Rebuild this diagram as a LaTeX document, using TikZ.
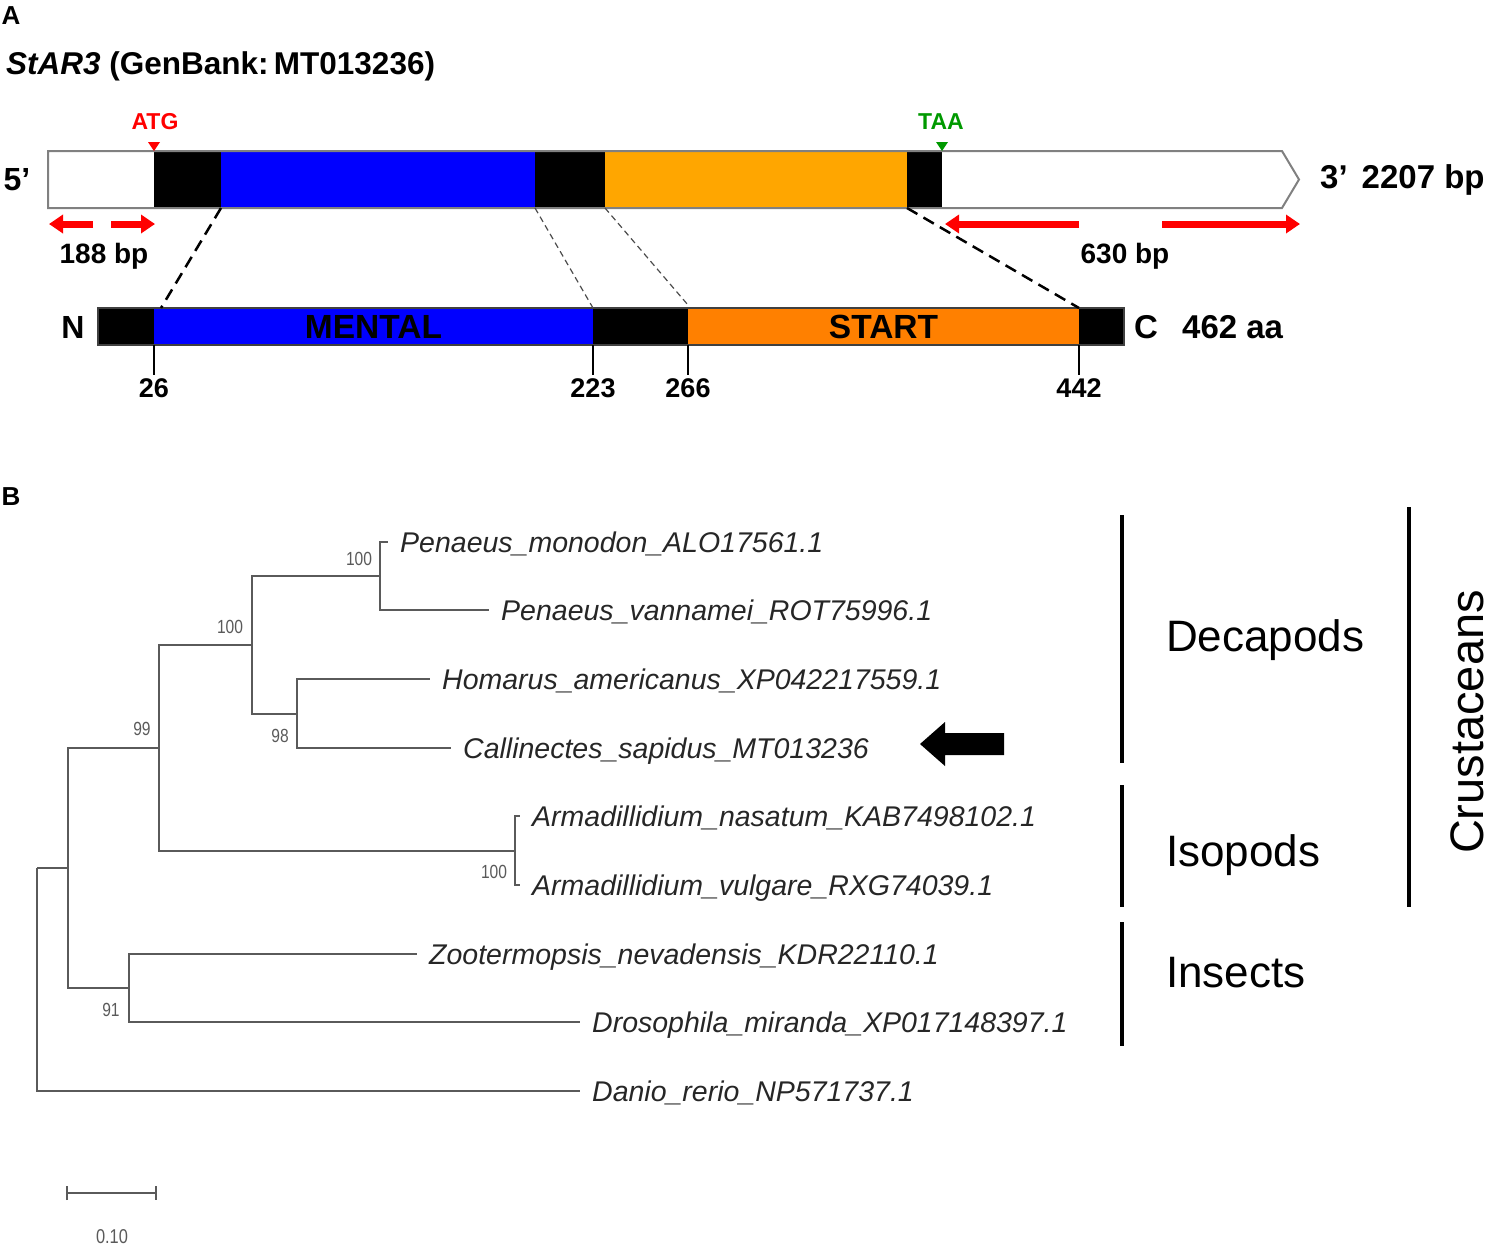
\documentclass[tikz,border=0pt]{standalone}
\usepackage{fontspec}
\setmainfont{Liberation Sans}
\newfontfamily\bootfont[FakeStretch=0.82]{Liberation Sans}
\usetikzlibrary{positioning,calc,arrows.meta}

\definecolor{geneorange}{RGB}{255,166,0}
\definecolor{startorange}{RGB}{255,128,0}
\definecolor{treegray}{RGB}{90,90,90}

\tikzset{
  seg/.style={inner sep=0pt, outer sep=0pt, minimum height=57pt},
  pseg/.style={seg, minimum height=37pt, font=\bfseries\fontsize{33.5}{34}\selectfont},
  numlbl/.style={font=\bfseries\fontsize{27}{27}\selectfont},
  dimarrow/.style={red, line width=7pt, -{Triangle[length=14pt,width=18pt]}},
  thickdash/.style={line width=2.5pt, dash pattern=on 12pt off 7pt},
  thindash/.style={line width=1.2pt, black!70, dash pattern=on 6pt off 4pt},
  branch/.style={draw=treegray, line width=2pt},
  leaf/.style={anchor=west, inner xsep=12pt, inner ysep=0pt, text height=20.5pt, text depth=0pt,
    font=\itshape\fontsize{28.5}{28.5}\selectfont, text=black!85},
  boot/.style={font=\bootfont\fontsize{19}{19}\selectfont, text=treegray, inner sep=0pt},
  clade/.style={line width=3.5pt},
  cladelbl/.style={anchor=west, inner sep=0pt, font=\fontsize{44}{44}\selectfont}
}

\begin{document}
\begin{tikzpicture}[x=1pt, y=-1pt]
\useasboundingbox (0,0) rectangle (1491,1251);

% panel A
\node[font=\bfseries\fontsize{26}{26}\selectfont] (pa) at (11,16) {A};
\node[anchor=west, inner sep=0pt, font=\bfseries\fontsize{31.5}{31.5}\selectfont] (title) at (6,66)
  {\textit{StAR3} (GenBank:\,MT013236)};

% gene
\node[seg, minimum width=106pt] (utr5) at (101,179.5) {};
\node[seg, fill=black, minimum width=67pt, right=0pt of utr5] (gblk1) {};
\node[seg, fill=blue, minimum width=314pt, right=0pt of gblk1] (gblue) {};
\node[seg, fill=black, minimum width=70pt, right=0pt of gblue] (gblk2) {};
\node[seg, fill=geneorange, minimum width=302pt, right=0pt of gblk2] (gorange) {};
\node[seg, fill=black, minimum width=35pt, right=0pt of gorange] (gblk3) {};
\node[seg, minimum width=340pt, right=0pt of gblk3] (utr3) {};
\draw[gray, line width=2pt, line join=miter] (utr5.north west) -- (utr3.north east)
  -- ($(utr3.east)+(17,0)$) -- (utr3.south east) -- (utr5.south west) -- cycle;

\node[numlbl, font=\bfseries\fontsize{32}{32}\selectfont] (five) at (17,180) {5’};
\node[anchor=west, inner sep=0pt, font=\bfseries\fontsize{33}{33}\selectfont] (three) at (1320,180)
  {3’\hspace{14pt}2207 bp};

\fill[red] (gblk1.north west) -- ++(-6,-9) -- ++(12,0) -- cycle;
\node[red, font=\bfseries\fontsize{23}{23}\selectfont] (atg) at (155,122) {ATG};
\fill[green!60!black] (gblk3.north east) -- ++(-6,-9) -- ++(12,0) -- cycle;
\node[green!60!black, font=\bfseries\fontsize{23}{23}\selectfont] (taa) at (941,122) {TAA};

\draw[dimarrow] ($(utr5.south west)+(45,16)$) -- ($(utr5.south west)+(1,16)$);
\draw[dimarrow] ($(utr5.south east)+(-43,16)$) -- ($(utr5.south east)+(1,16)$);
\node[numlbl, font=\bfseries\fontsize{28}{28}\selectfont] (len5) at (104,256) {188 bp};
\draw[dimarrow] ($(utr3.south west)+(137,16)$) -- ($(utr3.south west)+(3,16)$);
\draw[dimarrow] ($(utr3.south east)+(-120,16)$) -- ($(utr3.south east)+(18,16)$);
\node[numlbl, font=\bfseries\fontsize{28}{28}\selectfont] (len3) at (1125,256) {630 bp};

% protein
\node[pseg, fill=black, minimum width=56pt] (pblk1) at (126,326.5) {};
\node[pseg, fill=blue, minimum width=439pt, right=0pt of pblk1] (pblue) {MENTAL};
\node[pseg, fill=black, minimum width=95pt, right=0pt of pblue] (pblk2) {};
\node[pseg, fill=startorange, minimum width=391pt, right=0pt of pblk2] (pstart) {START};
\node[pseg, fill=black, minimum width=45pt, right=0pt of pstart] (pblk4) {};
\draw[black!75, line width=1.5pt] (pblk1.north west) rectangle (pblk4.south east);

\node[font=\bfseries\fontsize{32}{32}\selectfont] (nterm) at (73,327) {N};
\node[font=\bfseries\fontsize{33}{33}\selectfont] (cterm) at (1146,327) {C};
\node[anchor=west, inner sep=0pt, font=\bfseries\fontsize{33}{33}\selectfont] (aa) at (1182,327) {462 aa};

\node[numlbl] (n26) at (154,388) {26};
\node[numlbl] (n223) at (593,388) {223};
\node[numlbl] (n266) at (688,388) {266};
\node[numlbl] (n442) at (1079,388) {442};
\draw[line width=1.2pt] (pblue.south west) -- (n26.north);
\draw[line width=1.2pt] (pblk2.south west) -- (n223.north);
\draw[line width=1.2pt] (pstart.south west) -- (n266.north);
\draw[line width=1.2pt] (pstart.south east) -- (n442.north);

\draw[thickdash] (gblue.south west) -- ($(pblue.north west)+(7,0)$);
\draw[thindash] (gblk2.south west) -- (pblk2.north west);
\draw[thindash] (gorange.south west) -- ($(pstart.north west)+(0,-3)$);
\draw[thickdash] (gorange.south east) -- (pstart.north east);

% panel B
\node[font=\bfseries\fontsize{26}{26}\selectfont] (pb) at (11,497) {B};

\coordinate (root) at (37,868);
\coordinate (k1) at (68,868);
\coordinate (k99) at (159,748);
\coordinate (k100a) at (252,645);
\coordinate (k100b) at (380,576);
\coordinate (k98) at (297,713.5);
\coordinate (k100c) at (515,850.5);
\coordinate (k91) at (129,988);

\node[leaf] (mono) at (388,542) {Penaeus\_monodon\_ALO17561.1};
\node[leaf] (vann) at (489,610) {Penaeus\_vannamei\_ROT75996.1};
\node[leaf] (homa) at (430,679) {Homarus\_americanus\_XP042217559.1};
\node[leaf] (call) at (451,748) {Callinectes\_sapidus\_MT013236};
\node[leaf] (nasa) at (520,816) {Armadillidium\_nasatum\_KAB7498102.1};
\node[leaf] (vulg) at (520,885) {Armadillidium\_vulgare\_RXG74039.1};
\node[leaf] (zoot) at (417,954) {Zootermopsis\_nevadensis\_KDR22110.1};
\node[leaf] (dros) at (580,1022) {Drosophila\_miranda\_XP017148397.1};
\node[leaf] (dani) at (580,1091) {Danio\_rerio\_NP571737.1};

\draw[branch] (root) |- (k1) (root) |- (dani.west);
\draw[branch] (k1) |- (k99) (k1) |- (k91);
\draw[branch] (k99) |- (k100a) (k99) |- (k100c);
\draw[branch] (k100a) |- (k100b) (k100a) |- (k98);
\draw[branch] (k100b) |- (mono.west) (k100b) |- (vann.west);
\draw[branch] (k98) |- (homa.west) (k98) |- (call.west);
\draw[branch] (k100c) |- (nasa.west) (k100c) |- (vulg.west);
\draw[branch] (k91) |- (zoot.west) (k91) |- (dros.west);

\node[boot] (b1) at (359,559) {100};
\node[boot] (b2) at (230,627) {100};
\node[boot] (b3) at (142,729) {99};
\node[boot] (b4) at (280,736) {98};
\node[boot] (b5) at (494,872) {100};
\node[boot] (b6) at (111,1010) {91};

% pointer to the new sequence
\coordinate (ptr) at (920,744);
\fill (ptr) -- ++(25,-22) -- ++(0,11) -- ++(59,0) -- ++(0,22) -- ++(-59,0) -- ++(0,11) -- cycle;

% clades
\draw[clade] (1122,515) -- (1122,763);
\draw[clade] (1122,785) -- (1122,907);
\draw[clade] (1122,922) -- (1122,1046);
\draw[clade] (1409,507) -- (1409,907);
\node[cladelbl] (deca) at (1166,640) {Decapods};
\node[cladelbl] (isop) at (1166,855) {Isopods};
\node[cladelbl] (inse) at (1166,973) {Insects};
\node[rotate=90, inner sep=0pt, font=\fontsize{47}{47}\selectfont] (crus) at (1467,722) {Crustaceans};

% scale bar
\coordinate (sb1) at (66,1193);
\coordinate (sb2) at (157,1193);
\draw[branch, {Bar[width=14pt]}-{Bar[width=14pt]}] (sb1) -- (sb2);
\node[boot, font=\bootfont\fontsize{20}{20}\selectfont] (sbl) at (112,1237) {0.10};

\end{tikzpicture}
\end{document}
